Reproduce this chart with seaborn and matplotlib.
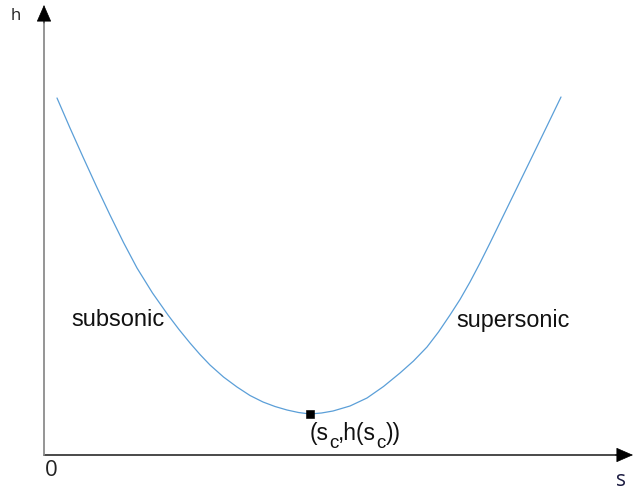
import matplotlib
matplotlib.use("Agg")
import matplotlib.pyplot as plt
import seaborn as sns

# ─── Data ────────────────────────────────────────────────────────────────────

s_vals = [0.26, 0.52, 0.78, 1.05, 1.32, 1.59, 1.86, 2.17, 2.48, 2.70, 2.92,
          3.12, 3.32, 3.59, 3.86, 4.12, 4.38, 4.62, 4.86, 5.09, 5.32,
          5.55, 5.78, 6.12, 6.46, 6.79, 7.12, 7.39, 7.66, 7.89, 8.12,
          8.32, 8.52, 8.72, 8.92, 9.12, 9.32, 9.52, 9.72, 9.89, 10.06,
          10.20, 10.34]
h_vals = [7.14, 6.54, 5.96, 5.37, 4.80, 4.25, 3.74, 3.24, 2.80, 2.51, 2.24,
          2.01, 1.80, 1.56, 1.36, 1.19, 1.06, 0.97, 0.90, 0.85, 0.82,
          0.84, 0.88, 0.98, 1.14, 1.37, 1.64, 1.88, 2.16, 2.46, 2.80,
          3.11, 3.46, 3.84, 4.24, 4.65, 5.06, 5.47, 5.88, 6.23, 6.58,
          6.87, 7.16]
s_c = [5.32]
h_c = [0.82]
region_labels = ["subsonic", "supersonic"]
crit_pieces = [("(s", False), ("c", True), (",h(s", False), ("c", True), ("))", False)]

# ─── Plot ────────────────────────────────────────────────────────────────────

sns.set_style("white")
plt.rcParams["font.family"] = ["Liberation Sans", "DejaVu Sans"]

W, H = 634, 493
fig = plt.figure(figsize=(W / 100, H / 100), dpi=100)
ax = fig.add_axes([44 / W, 38 / H, 589 / W, 450 / H])

sns.lineplot(x=s_vals, y=h_vals, sort=False, color="#5b9fd8", linewidth=0.9, ax=ax)
sns.scatterplot(x=s_c, y=h_c, marker="s", s=28, color="black", edgecolor="black",
                zorder=5, ax=ax)

ax.set_xlim(0, 11.78)
ax.set_ylim(0, 9.0)
ax.set_xticks([])
ax.set_yticks([])
for sp in ax.spines.values():
    sp.set_visible(False)

# axes drawn as arrows
ax.plot([0, 0.985], [0, 0], transform=ax.transAxes, color="#3a3a3a", lw=1.3, clip_on=False)
ax.plot([0, 0], [0, 0.985], transform=ax.transAxes, color="#8c8c8c", lw=1.3, clip_on=False)
head = dict(arrowstyle="-|>,head_length=0.55,head_width=0.24", color="black",
            lw=0.5, mutation_scale=20, shrinkA=0, shrinkB=0)
ax.annotate("", xy=(1.0, 0), xytext=(0.97, 0), xycoords="axes fraction",
            arrowprops=head, annotation_clip=False)
ax.annotate("", xy=(0, 1.0), xytext=(0, 0.96), xycoords="axes fraction",
            arrowprops=head, annotation_clip=False)

# labels
fig.text(16 / W, 1 - 16 / H, "h", fontsize=12, family="Open Sans",
         ha="center", va="center", color="#222222")
fig.text(51 / W, 1 - 471 / H, "0", fontsize=16, family="Open Sans",
         ha="center", va="center", color="#222222")
fig.text(621 / W, 1 - 480 / H, "s", fontsize=15, family="Open Sans",
         ha="center", va="center", color="#1a1a40")

ax.text(0.54, 2.7, region_labels[0], fontsize=17, ha="left", va="center", color="#111111")
ax.text(8.24, 2.7, region_labels[1], fontsize=16.8, ha="left", va="center", color="#111111")

# (s_c, h(s_c)) with lowered subscripts, laid out piece by piece
renderer = fig.canvas.get_renderer()
x_px = 310
for txt, sub in crit_pieces:
    y_px = 448 if sub else 440
    t = fig.text(x_px / W, 1 - y_px / H, txt, fontsize=13.5 if sub else 16.5,
                 ha="left", va="baseline", color="#111111")
    x_px = t.get_window_extent(renderer).x1

fig.savefig("out.png", dpi=100)
plt.close(fig)
